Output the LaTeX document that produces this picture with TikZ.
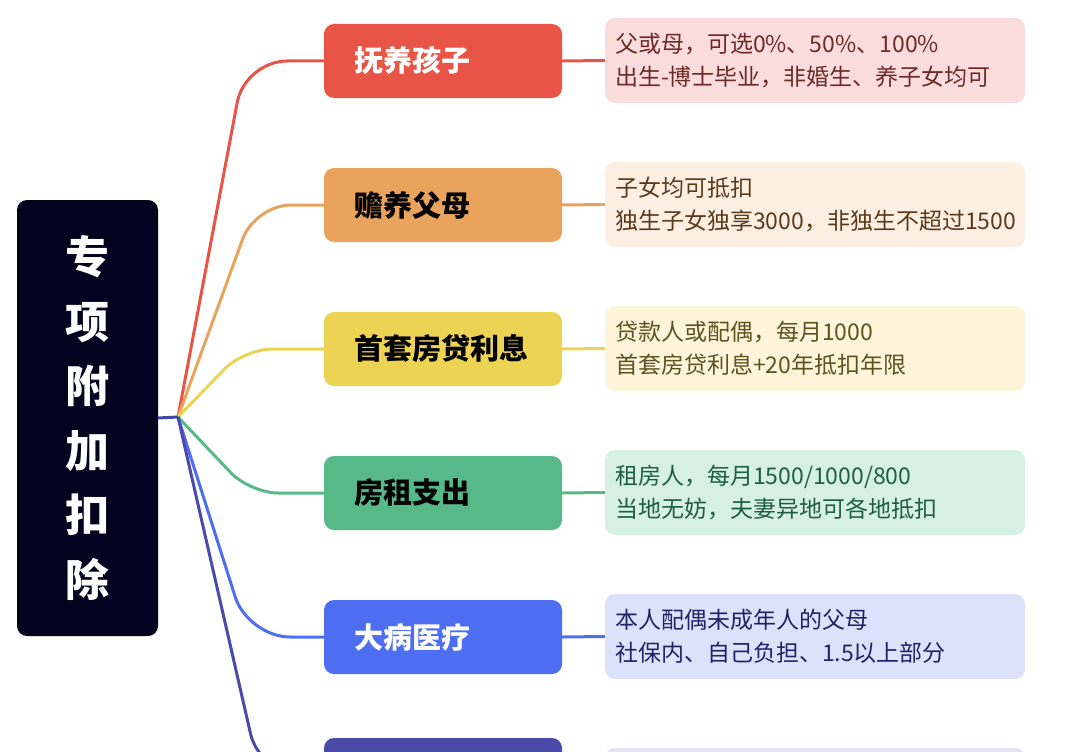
\documentclass[tikz,border=0pt]{standalone}
\usepackage{fontspec}
\setmainfont{Noto Sans CJK SC}
\usetikzlibrary{calc}
\definecolor{rootc}{HTML}{03031F}
\definecolor{hubc}{HTML}{4247AA}
\definecolor{c1}{HTML}{E85546}\definecolor{d1}{HTML}{F9DCDB}\definecolor{t1}{HTML}{6E2A26}
\definecolor{c2}{HTML}{E9A35D}\definecolor{d2}{HTML}{FCEFE2}\definecolor{t2}{HTML}{5B3A1C}
\definecolor{c3}{HTML}{EDD353}\definecolor{d3}{HTML}{FDF5DA}\definecolor{t3}{HTML}{5C5420}
\definecolor{c4}{HTML}{57B987}\definecolor{d4}{HTML}{D6F0E6}\definecolor{t4}{HTML}{1F5E44}
\definecolor{c5}{HTML}{4E6EF2}\definecolor{d5}{HTML}{DDE2FB}\definecolor{t5}{HTML}{1C2466}
\definecolor{c6}{HTML}{4A4AA9}\definecolor{d6}{HTML}{E3E3F3}
\tikzset{
  rootbox/.style={rectangle, rounded corners=10pt, fill=rootc, text=white,
    minimum width=141pt, minimum height=436pt, inner sep=0pt, align=center,
    font=\fontsize{44}{64.6}\selectfont\bfseries},
  branch/.style={rectangle, rounded corners=10pt, fill=#1, minimum height=74pt,
    text width=178pt, inner xsep=30pt, inner ysep=0pt, align=left,
    font=\fontsize{29}{34}\selectfont\bfseries},
  detail/.style={rectangle, rounded corners=10pt, fill=#1, minimum height=85pt,
    text width=400pt, inner xsep=10pt, inner ysep=0pt, align=left,
    font=\fontsize{23}{33}\selectfont},
  link/.style={draw=#1, line width=3pt},
  stub/.style={draw=#1, line width=3pt},
}
\begin{document}
\begin{tikzpicture}[x=1pt,y=-1pt]
\useasboundingbox (0,0) rectangle (1076,752);
\clip (0,0) rectangle (1076,752);
\fill[white] (0,0) rectangle (1076,752);

\node[rootbox] (root) at (87.5,418) {专\\项\\附\\加\\扣\\除};
\coordinate (hub) at (178,417);

% branch boxes
\node[branch=c1, text=white] (b1) at (443,61) {抚养孩子};
\node[branch=c2, text=black] (b2) at (443,205) {赡养父母};
\node[branch=c3, text=black] (b3) at (443,349) {首套房贷利息};
\node[branch=c4, text=black] (b4) at (443,493) {房租支出};
\node[branch=c5, text=white] (b5) at (443,637) {大病医疗};
\node[branch=c6, text=white] (b6) at (443,775) {};

% detail boxes
\node[detail=d1, text=t1] (d1) at (815,60.5) {父或母，可选0\%、50\%、100\%\\出生-博士毕业，非婚生、养子女均可};
\node[detail=d2, text=t2] (d2) at (815,204.5) {子女均可抵扣\\独生子女独享3000，非独生不超过1500};
\node[detail=d3, text=t3] (d3) at (815,348.5) {贷款人或配偶，每月1000\\首套房贷利息+20年抵扣年限};
\node[detail=d4, text=t4] (d4) at (815,492.5) {租房人，每月1500/1000/800\\当地无妨，夫妻异地可各地抵扣};
\node[detail=d5, text=t5] (d5) at (815,636.5) {本人配偶未成年人的父母\\社保内、自己负担、1.5以上部分};
\node[detail=d6] (d6) at (815,790.5) {};

% corner waypoints
\coordinate (k1) at (245,61);
\coordinate (k2) at (255,205);
\coordinate (k3) at (244,349);
\coordinate (k4) at (250,493);
\coordinate (k5) at (248,637);
\coordinate (k6) at (260,775);

% connectors
\draw[link=c1, rounded corners=42pt] (hub) -- (k1) -- (b1.west);
\draw[link=c2, rounded corners=36pt] (hub) -- (k2) -- (b2.west);
\draw[link=c3, rounded corners=28pt] (hub) -- (k3) -- (b3.west);
\draw[link=c4, rounded corners=28pt] (hub) -- (k4) -- (b4.west);
\draw[link=c5, rounded corners=42pt] (hub) -- (k5) -- (b5.west);
\draw[link=c6, rounded corners=42pt] (hub) -- (k6) -- (b6.west);
\draw[stub=hubc] (root.east) -- (hub);

\draw[stub=c1] (b1.east) -- (d1.west);
\draw[stub=c2] (b2.east) -- (d2.west);
\draw[stub=c3] (b3.east) -- (d3.west);
\draw[stub=c4] (b4.east) -- (d4.west);
\draw[stub=c5] (b5.east) -- (d5.west);
\draw[stub=c6] (b6.east) -- (d6.west);
\end{tikzpicture}
\end{document}
